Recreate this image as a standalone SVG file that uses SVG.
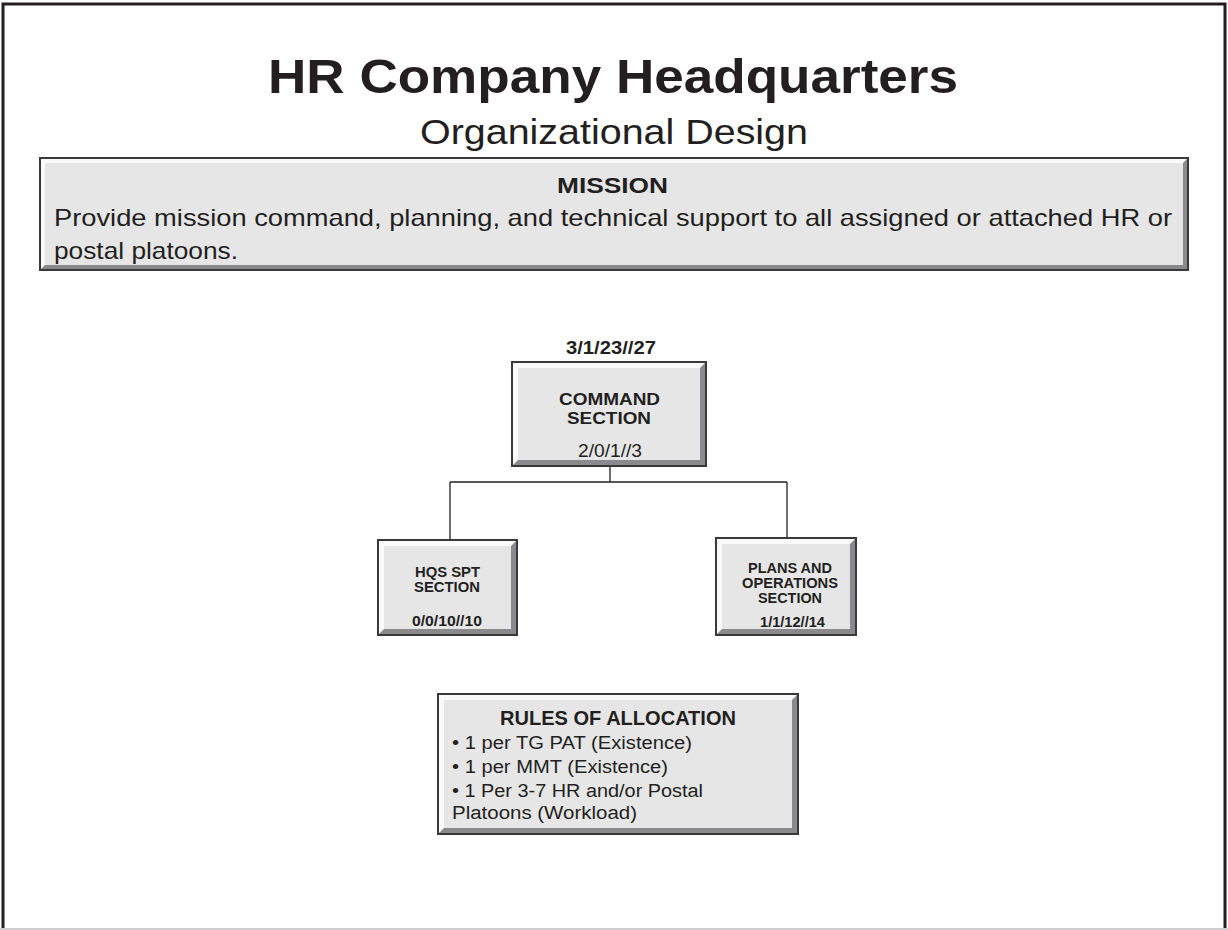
<svg xmlns="http://www.w3.org/2000/svg" width="1228" height="930" viewBox="0 0 1228 930">
<style>
text{font-family:"Liberation Sans",Arial,sans-serif;fill:#231f20}
.b{font-weight:bold}
.face{fill:#e6e6e7}
.hi{fill:#fafafa}
.sh{fill:#8a8a8c}
.edge{fill:none;stroke:#3a3a3a;stroke-width:2}
.conn{fill:none;stroke:#231f20;stroke-width:1.3}
</style>
<rect x="0" y="0" width="1228" height="930" fill="#fff"/>
<path d="M3,930 V4 H1225 V930" fill="none" stroke="#231f20" stroke-width="3"/>
<line x1="0" y1="929" x2="1228" y2="929" stroke="#cfcfcf" stroke-width="2"/>

<text x="268" y="93" font-size="48" class="b" textLength="690" lengthAdjust="spacingAndGlyphs">HR Company Headquarters</text>
<text x="420" y="144" font-size="35" textLength="388" lengthAdjust="spacingAndGlyphs">Organizational  Design</text>

<g id="mission">
<rect x="40" y="158" width="1148" height="112" class="face"/>
<polygon points="40,158 1188,158 1183,163 45,163 45,265 40,270" class="hi"/>
<polygon points="1188,158 1188,270 40,270 45,265 1183,265 1183,163" class="sh"/>
<rect x="40" y="158" width="1148" height="112" class="edge"/>
<text x="557" y="193" font-size="22" class="b" textLength="111" lengthAdjust="spacingAndGlyphs">MISSION</text>
<text x="54" y="226" font-size="24" textLength="1118" lengthAdjust="spacingAndGlyphs">Provide mission command, planning, and technical support to all assigned or attached HR  or</text>
<text x="54" y="259" font-size="24" textLength="184" lengthAdjust="spacingAndGlyphs">postal platoons.</text>
</g>

<g id="connectors">
<path d="M610,466 V482 M450,482 H787 M450,482 V540 M787,482 V538" class="conn"/>
</g>

<g id="command">
<text x="566" y="354" font-size="18" class="b" textLength="90" lengthAdjust="spacingAndGlyphs">3/1/23//27</text>
<rect x="512" y="362" width="194" height="104" class="face"/>
<polygon points="512,362 706,362 700,368 518,368 518,460 512,466" class="hi"/>
<polygon points="706,362 706,466 512,466 518,460 700,460 700,368" class="sh"/>
<rect x="512" y="362" width="194" height="104" class="edge"/>
<text x="559" y="405" font-size="17" class="b" textLength="101" lengthAdjust="spacingAndGlyphs">COMMAND</text>
<text x="567" y="424" font-size="17" class="b" textLength="84" lengthAdjust="spacingAndGlyphs">SECTION</text>
<text x="578" y="457" font-size="18" textLength="64" lengthAdjust="spacingAndGlyphs">2/0/1//3</text>
</g>

<g id="hqs">
<rect x="378" y="540" width="139" height="95" class="face"/>
<polygon points="378,540 517,540 511,546 384,546 384,629 378,635" class="hi"/>
<polygon points="517,540 517,635 378,635 384,629 511,629 511,546" class="sh"/>
<rect x="378" y="540" width="139" height="95" class="edge"/>
<text x="415" y="577" font-size="14" class="b" textLength="65" lengthAdjust="spacingAndGlyphs">HQS SPT</text>
<text x="414" y="592" font-size="14" class="b" textLength="66" lengthAdjust="spacingAndGlyphs">SECTION</text>
<text x="412" y="626" font-size="14" class="b" textLength="70" lengthAdjust="spacingAndGlyphs">0/0/10//10</text>
</g>

<g id="plans">
<rect x="716" y="538" width="140" height="97" class="face"/>
<polygon points="716,538 856,538 850,544 722,544 722,629 716,635" class="hi"/>
<polygon points="856,538 856,635 716,635 722,629 850,629 850,544" class="sh"/>
<rect x="716" y="538" width="140" height="97" class="edge"/>
<text x="748" y="573" font-size="14" class="b" textLength="84" lengthAdjust="spacingAndGlyphs">PLANS AND</text>
<text x="742" y="588" font-size="14" class="b" textLength="96" lengthAdjust="spacingAndGlyphs">OPERATIONS</text>
<text x="758" y="603" font-size="14" class="b" textLength="64" lengthAdjust="spacingAndGlyphs">SECTION</text>
<text x="760" y="627" font-size="14" class="b" textLength="65" lengthAdjust="spacingAndGlyphs">1/1/12//14</text>
</g>

<g id="rules">
<rect x="438" y="694" width="360" height="140" class="face"/>
<polygon points="438,694 798,694 792,700 444,700 444,828 438,834" class="hi"/>
<polygon points="798,694 798,834 438,834 444,828 792,828 792,700" class="sh"/>
<rect x="438" y="694" width="360" height="140" class="edge"/>
<text x="500" y="725" font-size="20" class="b" textLength="236" lengthAdjust="spacingAndGlyphs">RULES OF ALLOCATION</text>
<text x="452" y="749" font-size="18" textLength="240" lengthAdjust="spacingAndGlyphs">• 1 per TG PAT (Existence)</text>
<text x="452" y="773" font-size="18" textLength="216" lengthAdjust="spacingAndGlyphs">• 1 per MMT  (Existence)</text>
<text x="452" y="797" font-size="18" textLength="251" lengthAdjust="spacingAndGlyphs">• 1 Per 3-7 HR and/or Postal</text>
<text x="452" y="819" font-size="18" textLength="185" lengthAdjust="spacingAndGlyphs">Platoons (Workload)</text>
</g>
</svg>
